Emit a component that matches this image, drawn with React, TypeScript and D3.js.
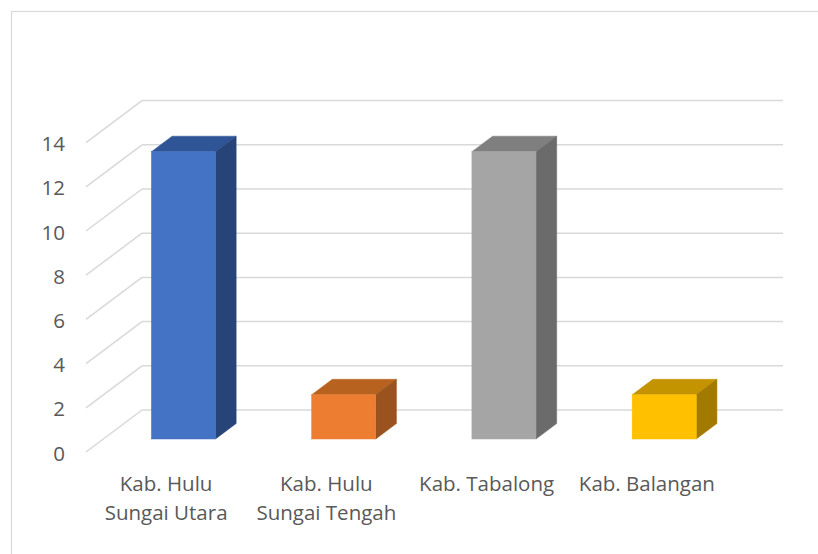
import React from "react";
import * as d3 from "d3";

const categories: string[][] = [
  ["Kab. Hulu", "Sungai Utara"],
  ["Kab. Hulu", "Sungai Tengah"],
  ["Kab. Tabalong"],
  ["Kab. Balangan"],
];
const values: number[] = [13, 2, 13, 2];
const yTicks: number[] = [0, 2, 4, 6, 8, 10, 12, 14];
const frontColors = ["#4472C4", "#ED7D31", "#A5A5A5", "#FFC000"];
const topColors = ["#2F5597", "#B8621F", "#7F7F7F", "#C49300"];
const sideColors = ["#264478", "#9A521E", "#6B6B6B", "#A37A00"];

const W = 818;
const H = 554;
const FONT = "'Open Sans', 'Noto Sans', sans-serif";
const TEXT = "#595959";
const GRID = "#D9D9D9";

// oblique projection: depth in px (vertical), horizontal shift = depth * ratio
const DEPTH = 42;
const RATIO = 56 / 42;
const BAR_D1 = 13;
const BAR_D2 = 28.5;

export default function App() {
  const y = d3.scaleLinear().domain([0, 14]).range([452, 452 - 14 * 22.1]);
  const keys = categories.map((c) => c.join(" "));
  const x = d3.scaleBand<string>().domain(keys).range([86, 727]).paddingInner(0).paddingOuter(0);
  const bw = x.bandwidth();
  const dx = (d: number) => d * RATIO;

  const wallLeft = 86 + dx(DEPTH);
  const wallRight = 727 + dx(DEPTH);

  return (
    <svg
      width={W}
      height={H}
      style={{ position: "absolute", left: 0, top: 0, background: "#fff" }}
    >
      <rect x={0} y={0} width={W} height={H} fill="#fff" />
      <rect x={11.5} y={11.5} width={W + 20} height={H + 20} fill="none" stroke={GRID} strokeWidth={1.2} />

      {/* gridlines */}
      {yTicks.map((t) => (
        <g key={"g" + t}>
          <line x1={86} y1={y(t)} x2={wallLeft} y2={y(t) - DEPTH} stroke={GRID} strokeWidth={1.5} />
          <line x1={wallLeft} y1={y(t) - DEPTH} x2={wallRight} y2={y(t) - DEPTH} stroke={GRID} strokeWidth={1.5} />
        </g>
      ))}

      {/* tick labels */}
      {yTicks.map((t) => (
        <text
          key={"t" + t}
          x={65}
          y={y(t) + 8.5}
          textAnchor="end"
          fontFamily={FONT}
          fontSize={20.5}
          fill={TEXT}
        >
          {t}
        </text>
      ))}

      {/* bars */}
      {values.map((v, i) => {
        const k = keys[i];
        const left = (x(k) as number) + bw * 0.3 + dx(BAR_D1);
        const right = left + bw * 0.4;
        const top = y(v) - BAR_D1;
        const bottom = y(0) - BAR_D1;
        const ddx = dx(BAR_D2 - BAR_D1);
        const ddy = BAR_D2 - BAR_D1;
        const topPath = `M${left},${top} L${left + ddx},${top - ddy} L${right + ddx},${top - ddy} L${right},${top} Z`;
        const sidePath = `M${right},${top} L${right + ddx},${top - ddy} L${right + ddx},${bottom - ddy} L${right},${bottom} Z`;
        return (
          <g key={"b" + i}>
            <path d={topPath} fill={topColors[i]} stroke={topColors[i]} strokeWidth={0.5} />
            <path d={sidePath} fill={sideColors[i]} stroke={sideColors[i]} strokeWidth={0.5} />
            <rect x={left} y={top} width={right - left} height={bottom - top} fill={frontColors[i]} stroke={frontColors[i]} strokeWidth={0.5} />
          </g>
        );
      })}

      {/* category labels */}
      {categories.map((lines, i) => {
        const cx = (x(keys[i]) as number) + bw / 2;
        return (
          <text key={"c" + i} textAnchor="middle" fontFamily={FONT} fontSize={20.5} fill={TEXT}>
            {lines.map((ln, j) => (
              <tspan key={j} x={cx} y={491 + j * 28.7}>
                {ln}
              </tspan>
            ))}
          </text>
        );
      })}
    </svg>
  );
}
